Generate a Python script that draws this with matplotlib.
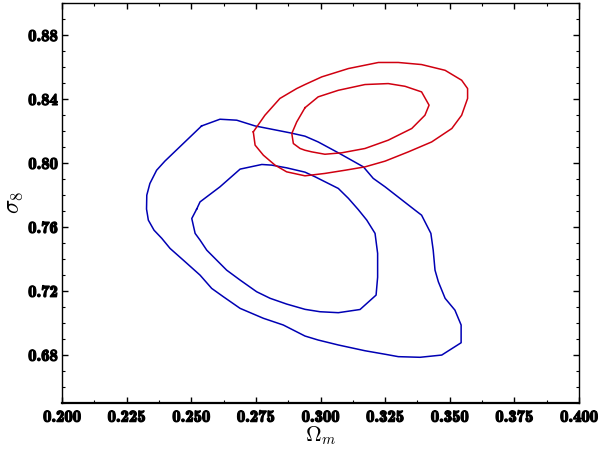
import matplotlib
matplotlib.use("Agg")
import matplotlib.pyplot as plt
import matplotlib.patheffects as pe
from matplotlib.ticker import MultipleLocator, FuncFormatter

plt.rcParams['mathtext.fontset'] = 'cm'

# Contour data (Omega_m, sigma_8)
blue_outer_om = [0.2540, 0.2611, 0.2676, 0.2747, 0.2882, 0.2940, 0.2991, 0.3069, 0.3166, 0.3204,
                 0.3250, 0.3366, 0.3391, 0.3427, 0.3436, 0.3443, 0.3456, 0.3482, 0.3520, 0.3544,
                 0.3544, 0.3469, 0.3385, 0.3301, 0.3250, 0.3172, 0.3069, 0.2991, 0.2940, 0.2856,
                 0.2779, 0.2689, 0.2624, 0.2579, 0.2534, 0.2469, 0.2418, 0.2386, 0.2356, 0.2334,
                 0.2327, 0.2328, 0.2340, 0.2366, 0.2398, 0.2469, 0.2540]
blue_outer_s8 = [0.8231, 0.8273, 0.8267, 0.8231, 0.8188, 0.8167, 0.8131, 0.8063, 0.7975, 0.7903,
                 0.7850, 0.7704, 0.7673, 0.7559, 0.7454, 0.7329, 0.7256, 0.7153, 0.7079, 0.6986,
                 0.6875, 0.6798, 0.6784, 0.6788, 0.6803, 0.6825, 0.6861, 0.6892, 0.6917, 0.6986,
                 0.7028, 0.7090, 0.7163, 0.7215, 0.7298, 0.7392, 0.7465, 0.7528, 0.7579, 0.7642,
                 0.7711, 0.7798, 0.7871, 0.7954, 0.8011, 0.8121, 0.8231]

blue_inner_om = [0.2521, 0.2534, 0.2611, 0.2689, 0.2773, 0.2811, 0.2869, 0.2940, 0.2979, 0.3069,
                 0.3108, 0.3146, 0.3179, 0.3211, 0.3221, 0.3221, 0.3215, 0.3153, 0.3069, 0.2998,
                 0.2940, 0.2869, 0.2805, 0.2753, 0.2689, 0.2637, 0.2560, 0.2534, 0.2515, 0.2502,
                 0.2521]
blue_inner_s8 = [0.7711, 0.7756, 0.7850, 0.7961, 0.7990, 0.7986, 0.7969, 0.7942, 0.7913, 0.7840,
                 0.7778, 0.7708, 0.7642, 0.7559, 0.7434, 0.7285, 0.7173, 0.7083, 0.7063, 0.7069,
                 0.7084, 0.7117, 0.7153, 0.7194, 0.7267, 0.7329, 0.7454, 0.7517, 0.7559, 0.7652,
                 0.7711]

red_outer_om = [0.2740, 0.2785, 0.2843, 0.2908, 0.2940, 0.3005, 0.3108, 0.3224, 0.3301, 0.3391,
                0.3482, 0.3546, 0.3569, 0.3569, 0.3546, 0.3508, 0.3430, 0.3340, 0.3250, 0.3172,
                0.3095, 0.3017, 0.2940, 0.2869, 0.2824, 0.2779, 0.2747, 0.2740]
red_outer_s8 = [0.8194, 0.8298, 0.8403, 0.8465, 0.8490, 0.8538, 0.8590, 0.8628, 0.8628, 0.8615,
                0.8579, 0.8517, 0.8465, 0.8403, 0.8298, 0.8215, 0.8131, 0.8069, 0.8011, 0.7975,
                0.7954, 0.7934, 0.7919, 0.7944, 0.7986, 0.8048, 0.8111, 0.8194]

red_inner_om = [0.2940, 0.2991, 0.3069, 0.3172, 0.3262, 0.3327, 0.3391, 0.3420, 0.3404, 0.3353,
                0.3262, 0.3172, 0.3082, 0.3017, 0.2966, 0.2940, 0.2921, 0.2895, 0.2889, 0.2908,
                0.2940]
red_inner_s8 = [0.8345, 0.8413, 0.8454, 0.8490, 0.8496, 0.8479, 0.8444, 0.8361, 0.8298, 0.8215,
                0.8142, 0.8090, 0.8063, 0.8054, 0.8069, 0.8079, 0.8090, 0.8121, 0.8184, 0.8256,
                0.8345]

xticks = [0.200, 0.225, 0.250, 0.275, 0.300, 0.325, 0.350, 0.375, 0.400]
yticks = [0.68, 0.72, 0.76, 0.80, 0.84, 0.88]

BLUE = '#0000b4'
RED = '#d00010'

fig = plt.figure(figsize=(6.0, 4.49), dpi=100)
ax = fig.add_axes([62/600, 1 - 402.7/449, (579-62)/600, (402.7-3)/449])

ax.plot(blue_outer_om, blue_outer_s8, color=BLUE, lw=1.1)
ax.plot(blue_inner_om, blue_inner_s8, color=BLUE, lw=1.1)
ax.plot(red_outer_om, red_outer_s8, color=RED, lw=1.1)
ax.plot(red_inner_om, red_inner_s8, color=RED, lw=1.1)

ax.set_xlim(0.2, 0.4)
ax.set_ylim(0.65, 0.90)
ax.set_xticks(xticks)
ax.set_yticks(yticks)
ax.xaxis.set_minor_locator(MultipleLocator(0.0125))
ax.yaxis.set_minor_locator(MultipleLocator(0.01))
ax.xaxis.set_major_formatter(FuncFormatter(lambda v, p: '%.3f' % v))
ax.yaxis.set_major_formatter(FuncFormatter(lambda v, p: '%.2f' % v))
ax.tick_params(which='both', direction='in', top=True, right=True)
ax.tick_params(which='major', length=4, width=1)
ax.tick_params(which='minor', length=2.5, width=0.8)
ax.tick_params(axis='x', which='major', pad=5)
ax.tick_params(axis='y', which='major', pad=3)
for s in ['top', 'left', 'right']:
    ax.spines[s].set_linewidth(1.0)
ax.spines['bottom'].set_linewidth(1.6)

stroke = [pe.withStroke(linewidth=0.9, foreground='black')]
for lab in ax.get_xticklabels() + ax.get_yticklabels():
    lab.set_fontfamily('cmb10')
    lab.set_fontsize(12)
    lab.set_path_effects(stroke)

ax.set_xlabel(r'$\Omega_m$', fontsize=15.5)
ax.set_ylabel(r'$\sigma_8$', fontsize=17)
ax.xaxis.set_label_coords(0.5, -0.053)
ax.xaxis.label.set_va('top')
ax.yaxis.set_label_coords(-0.095, 0.5)
ax.yaxis.label.set_va('center')

fig.savefig('out.png', dpi=100)
